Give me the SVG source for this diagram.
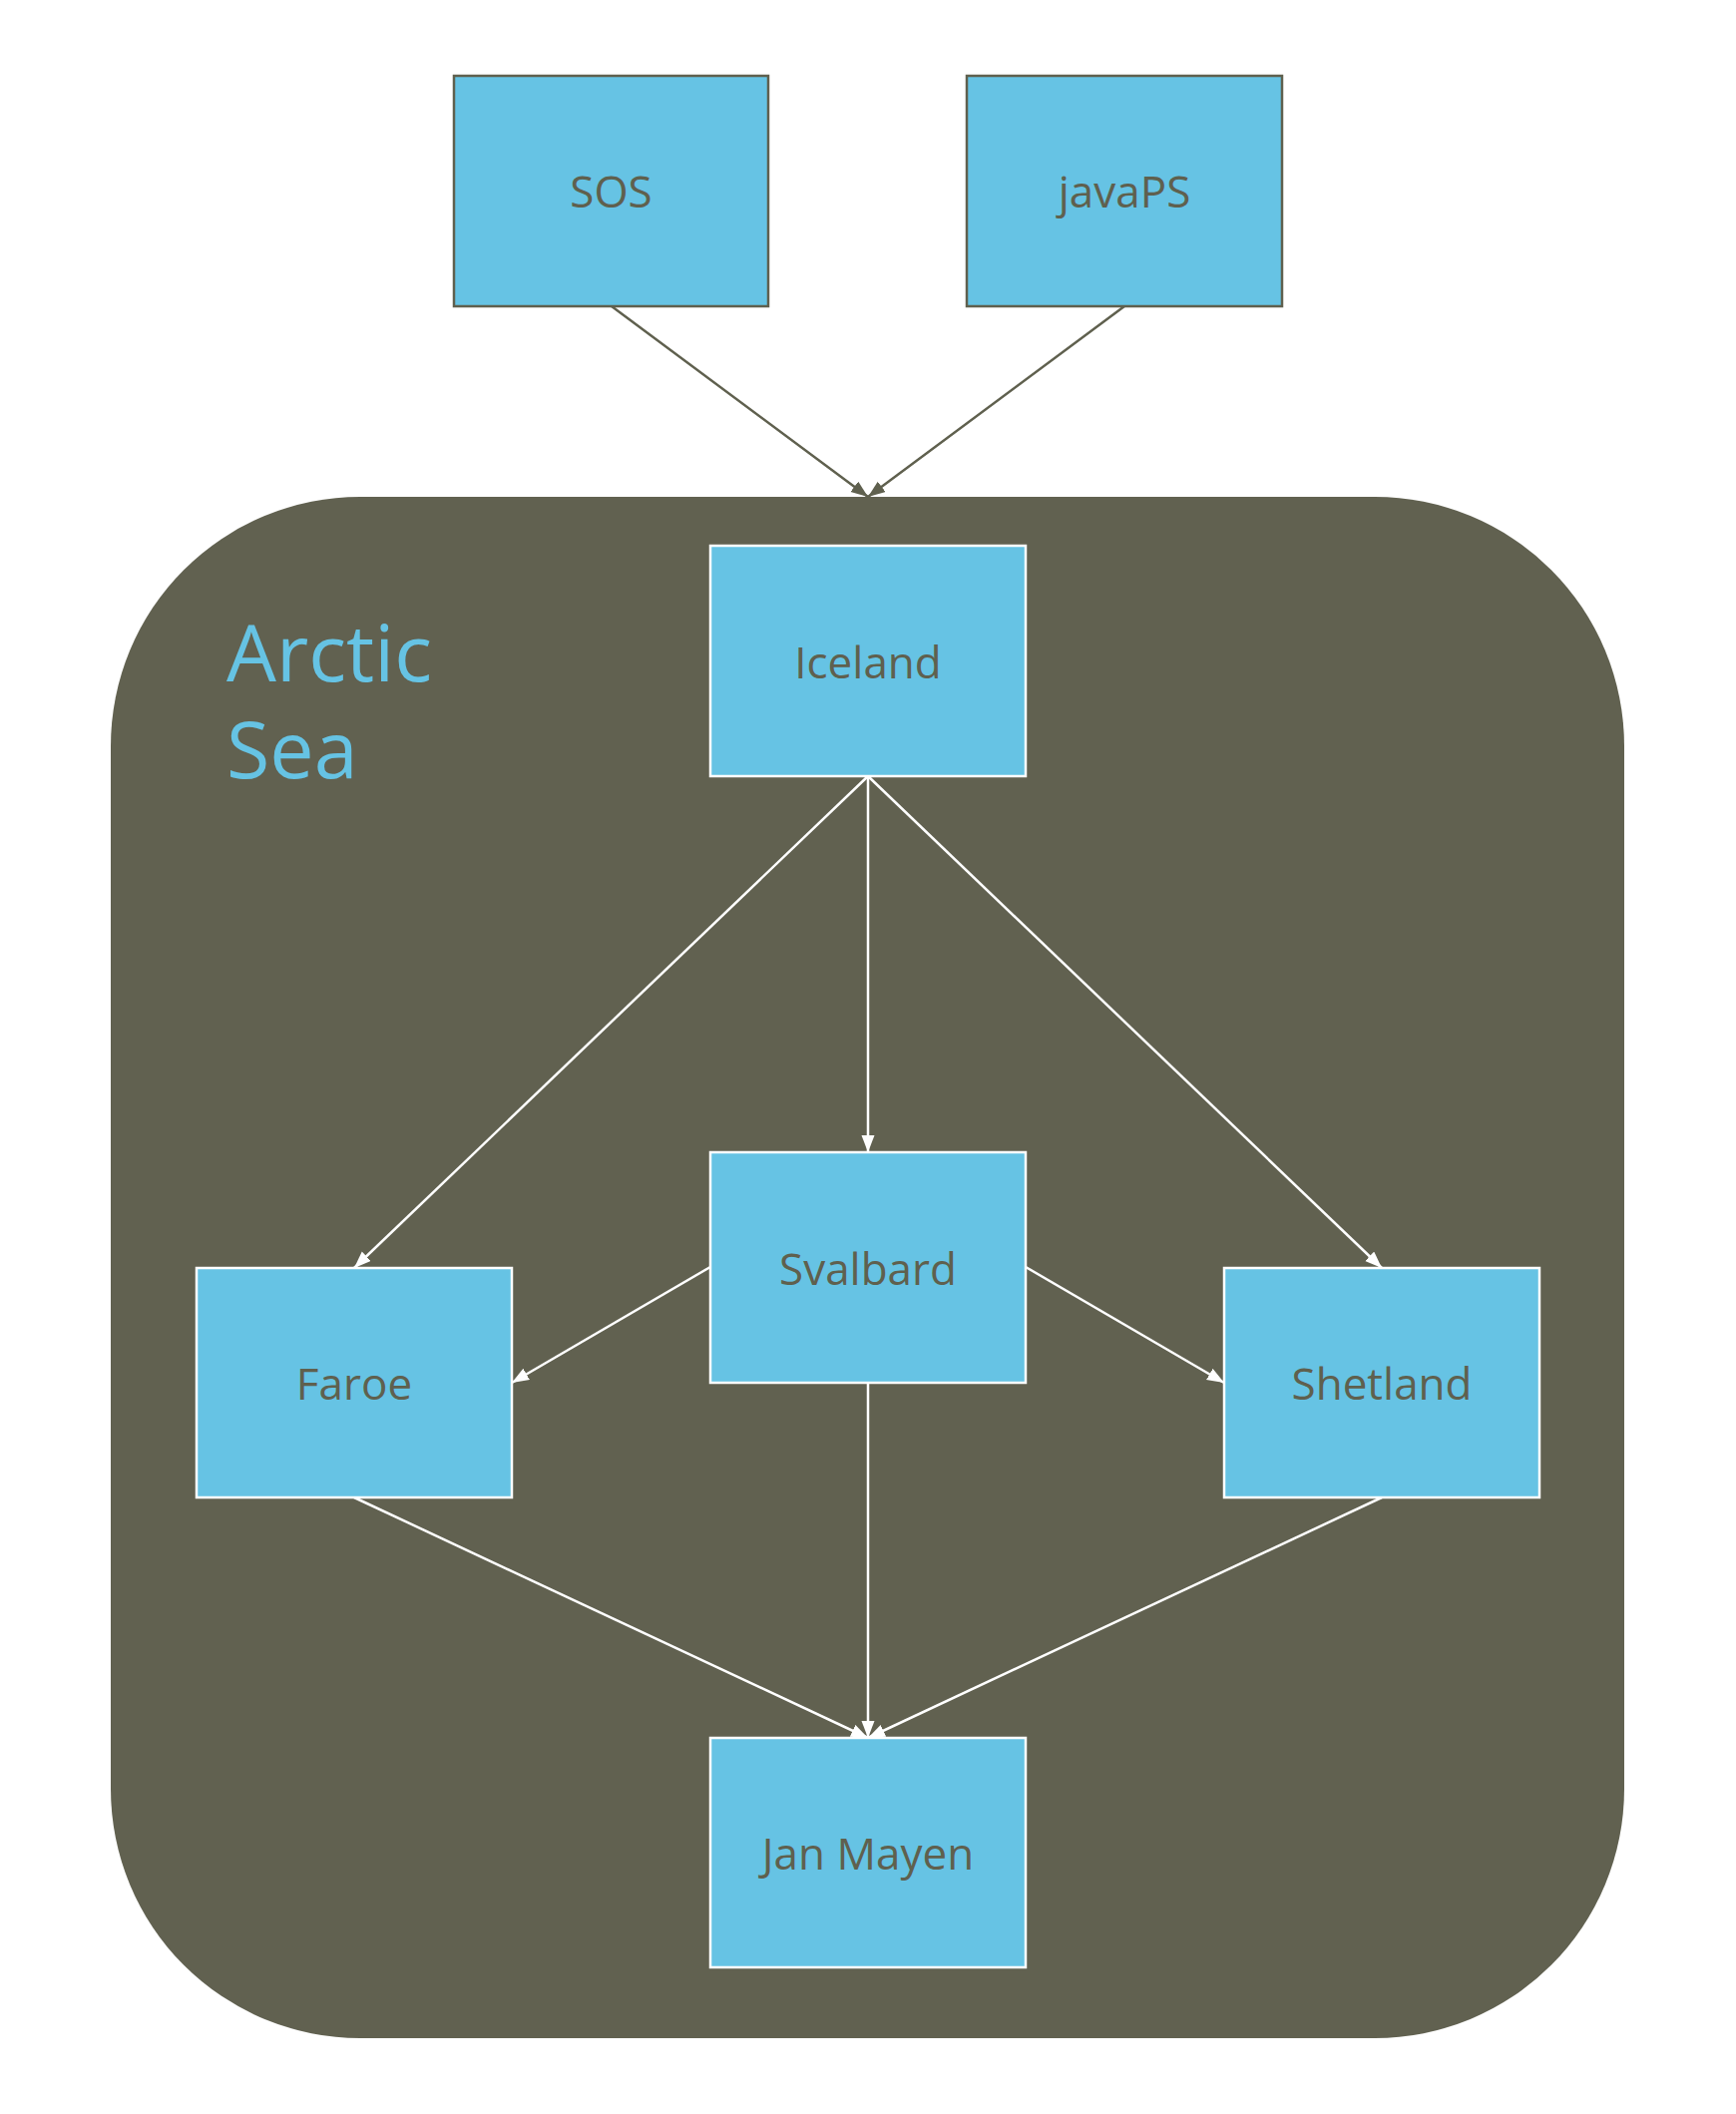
<svg xmlns="http://www.w3.org/2000/svg" width="1740" height="2119" viewBox="0 0 1740 2119">
<style>
.node rect{fill:#66c3e4;stroke-width:2.5}
.outer rect{stroke:#5f604e}
.inner rect{stroke:#ffffff}
.node text{font-family:"Open Sans","Liberation Sans",sans-serif;font-size:44px;fill:#5f604e;text-anchor:middle}
.title{font-family:"Open Sans","Liberation Sans",sans-serif;font-size:79px;fill:#66c3e4}
.e-dark{stroke:#5f604e;stroke-width:2.5;fill:none}
.e-white{stroke:#ffffff;stroke-width:2.5;fill:none}
</style>
<defs>
<marker id="ad" markerUnits="userSpaceOnUse" markerWidth="18" markerHeight="14" refX="17" refY="6.5" orient="auto">
<path d="M0,0 L17,6.5 L0,13 Z" fill="#5f604e"/>
</marker>
<marker id="aw" markerUnits="userSpaceOnUse" markerWidth="18" markerHeight="14" refX="17" refY="6.5" orient="auto">
<path d="M0,0 L17,6.5 L0,13 Z" fill="#ffffff"/>
</marker>
</defs>
<rect width="1740" height="2119" fill="#ffffff"/>
<g id="arctic-sea">
<rect x="111" y="498" width="1517" height="1545" rx="250" ry="250" fill="#616150"/>
<text class="title" x="227" y="683">Arctic</text>
<text class="title" x="227" y="780">Sea</text>
</g>
<g id="connectors">
<line class="e-dark" x1="613" y1="307" x2="870" y2="498" marker-end="url(#ad)"/>
<line class="e-dark" x1="1127" y1="307" x2="870" y2="498" marker-end="url(#ad)"/>
<line class="e-white" x1="870" y1="778" x2="870" y2="1155" marker-end="url(#aw)"/>
<line class="e-white" x1="870" y1="778" x2="355" y2="1271" marker-end="url(#aw)"/>
<line class="e-white" x1="870" y1="778" x2="1385" y2="1271" marker-end="url(#aw)"/>
<line class="e-white" x1="712" y1="1270" x2="513" y2="1386" marker-end="url(#aw)"/>
<line class="e-white" x1="1028" y1="1270" x2="1227" y2="1386" marker-end="url(#aw)"/>
<line class="e-white" x1="870" y1="1386" x2="870" y2="1742" marker-end="url(#aw)"/>
<line class="e-white" x1="355" y1="1501" x2="870" y2="1742" marker-end="url(#aw)"/>
<line class="e-white" x1="1385" y1="1501" x2="870" y2="1742" marker-end="url(#aw)"/>
</g>
<g id="SOS" class="node outer">
<rect x="455" y="76" width="315" height="231"/>
<text x="612.5" y="208">SOS</text>
</g>
<g id="javaPS" class="node outer">
<rect x="969" y="76" width="316" height="231"/>
<text x="1127" y="208">javaPS</text>
</g>
<g id="Iceland" class="node inner">
<rect x="712" y="547" width="316" height="231"/>
<text x="870" y="680">Iceland</text>
</g>
<g id="Svalbard" class="node inner">
<rect x="712" y="1155" width="316" height="231"/>
<text x="870" y="1288">Svalbard</text>
</g>
<g id="Faroe" class="node inner">
<rect x="197" y="1271" width="316" height="230"/>
<text x="355" y="1403">Faroe</text>
</g>
<g id="Shetland" class="node inner">
<rect x="1227" y="1271" width="316" height="230"/>
<text x="1385" y="1403">Shetland</text>
</g>
<g id="JanMayen" class="node inner">
<rect x="712" y="1742" width="316" height="230"/>
<text x="870" y="1874">Jan Mayen</text>
</g>
</svg>
